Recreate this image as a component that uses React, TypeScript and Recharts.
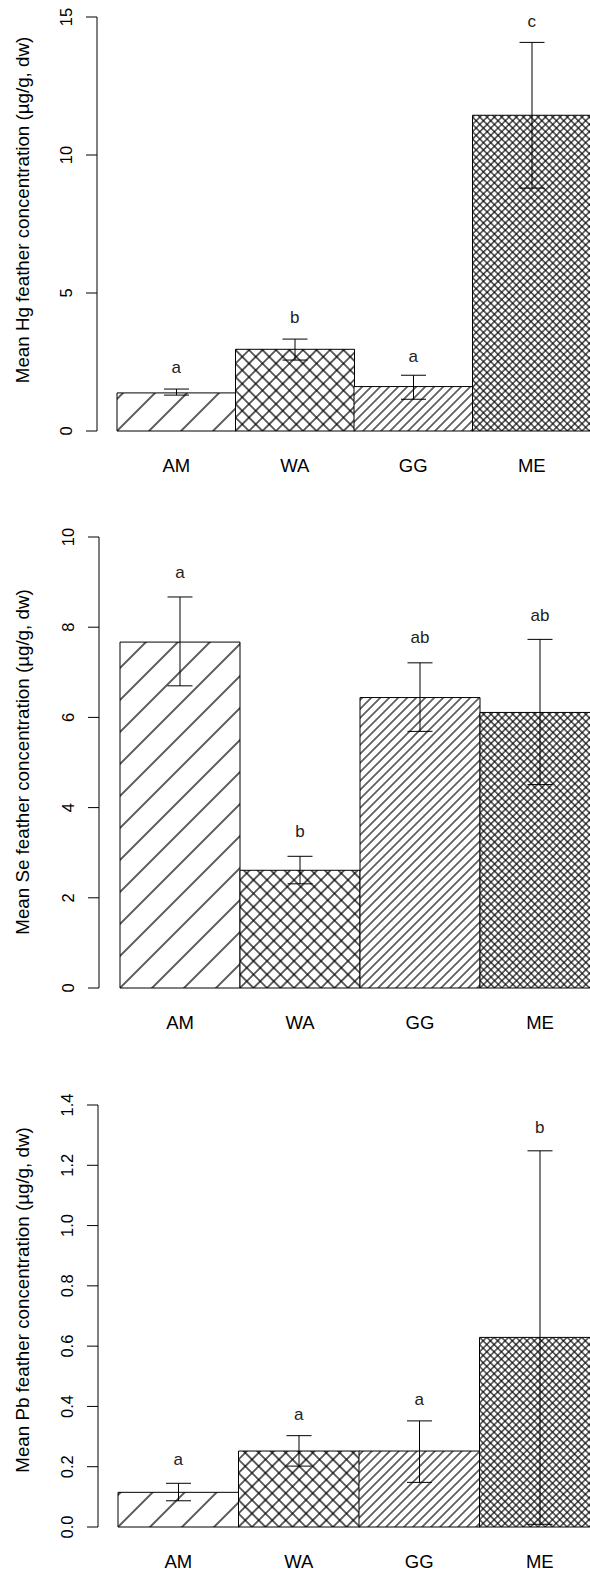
import React from 'react';
import { ComposedChart, Bar, Cell, ErrorBar, Scatter, XAxis, YAxis, Label } from 'recharts';

// sampling sites, same order in all three panels
const sites = ['AM', 'WA', 'GG', 'ME'];
const hatchBySite = ['sparse', 'cross', 'dense', 'fine'];

// Hg (µg/g, dw)
const hgMean = [1.38, 2.96, 1.61, 11.44];
const hgLow = [1.3, 2.57, 1.15, 8.8];
const hgHigh = [1.52, 3.33, 2.02, 14.08];
const hgLetters = ['a', 'b', 'a', 'c'];
const hgLetterAt = [2.09, 3.92, 2.51, 14.63];
const hgTicks = [0, 5, 10, 15];

// Se (µg/g, dw)
const seMean = [7.67, 2.61, 6.44, 6.11];
const seLow = [6.7, 2.31, 5.69, 4.51];
const seHigh = [8.67, 2.92, 7.21, 7.73];
const seLetters = ['a', 'b', 'ab', 'ab'];
const seLetterAt = [9.08, 3.35, 7.64, 8.14];
const seTicks = [0, 2, 4, 6, 8, 10];

// Pb (µg/g, dw)
const pbMean = [0.115, 0.252, 0.252, 0.629];
const pbLow = [0.087, 0.202, 0.148, 0.009];
const pbHigh = [0.145, 0.303, 0.352, 1.248];
const pbLetters = ['a', 'a', 'a', 'b'];
const pbLetterAt = [0.206, 0.355, 0.405, 1.307];
const pbTicks = [0, 0.2, 0.4, 0.6, 0.8, 1.0, 1.2, 1.4];

const FONT = '"Liberation Sans", Arial, Helvetica, sans-serif';
const CHART_W = 600;

// gap = horizontal distance between hatch lines
const HATCH: Record<string, { gap: number; cross: boolean; w: number }> = {
  sparse: { gap: 32, cross: false, w: 1.3 },
  dense: { gap: 9, cross: false, w: 1.15 },
  cross: { gap: 13.5, cross: true, w: 1.25 },
  fine: { gap: 7.3, cross: true, w: 1.1 },
};

const Hatch = ({ id, kind, x0, y0 }: { id: string; kind: string; x0: number; y0: number }) => {
  const h = HATCH[kind];
  const s = h.gap / Math.SQRT2;
  const ln = { stroke: '#000', strokeWidth: h.w };
  return (
    <pattern
      id={id}
      patternUnits="userSpaceOnUse"
      width={s}
      height={s}
      patternTransform={`translate(${x0} ${y0}) rotate(45)`}
    >
      <rect width={s} height={s} fill="#fff" />
      <line x1={0} y1={0} x2={0} y2={s} {...ln} />
      <line x1={s} y1={0} x2={s} y2={s} {...ln} />
      {h.cross && <line x1={0} y1={0} x2={s} y2={0} {...ln} />}
      {h.cross && <line x1={0} y1={s} x2={s} y2={s} {...ln} />}
    </pattern>
  );
};

interface PanelProps {
  id: string;
  title: string;
  mean: number[];
  low: number[];
  high: number[];
  letters: string[];
  letterAt: number[];
  ticks: number[];
  fmt: (v: number) => string;
  top: number;
  height: number;
  marginTop: number;
  xAxisHeight: number;
  axisX: number;
  pad: number;
  marginRight: number;
  titleY: number;
}

const Panel = (p: PanelProps) => {
  const data = sites.map((name, i) => ({
    name,
    mean: p.mean[i],
    err: [p.mean[i] - p.low[i], p.high[i] - p.mean[i]],
    letter: p.letters[i],
    letterAt: p.letterAt[i],
  }));
  const plotBottom = p.height - p.xAxisHeight;
  const band = (CHART_W - p.marginRight - p.axisX - p.pad) / sites.length;

  return (
    <div style={{ position: 'absolute', left: 0, top: p.top }}>
      <ComposedChart
        width={CHART_W}
        height={p.height}
        data={data}
        barCategoryGap={0}
        barGap={0}
        margin={{ top: p.marginTop, right: p.marginRight, bottom: 0, left: 0 }}
      >
        <defs>
          {sites.map((s, i) => (
            <Hatch
              key={s}
              id={`${p.id}-${s}`}
              kind={hatchBySite[i]}
              x0={p.axisX + p.pad + i * band}
              y0={plotBottom}
            />
          ))}
        </defs>
        <XAxis
          dataKey="name"
          axisLine={false}
          tickLine={false}
          tickSize={0}
          tickMargin={0}
          interval={0}
          height={p.xAxisHeight}
          padding={{ left: p.pad, right: 0 }}
          tick={(t: any) => (
            <text x={t.x} y={t.y + 41} textAnchor="middle" fontSize={18.5} fontFamily={FONT} fill="#000">
              {t.payload.value}
            </text>
          )}
        />
        <YAxis
          width={p.axisX}
          domain={[p.ticks[0], p.ticks[p.ticks.length - 1]]}
          ticks={p.ticks}
          interval={0}
          tickSize={11}
          tickMargin={14}
          axisLine={{ stroke: '#000' }}
          tickLine={{ stroke: '#000' }}
          tick={(t: any) => (
            <text
              x={t.x}
              y={t.y}
              transform={`rotate(-90, ${t.x}, ${t.y})`}
              textAnchor="middle"
              fontSize={16.5}
              fontFamily={FONT}
              fill="#000"
            >
              {p.fmt(t.payload.value)}
            </text>
          )}
        >
          <Label
            content={() => (
              <text
                x={28.5}
                y={p.titleY}
                transform={`rotate(-90, 28.5, ${p.titleY})`}
                textAnchor="middle"
                fontSize={18.75}
                fontFamily={FONT}
                fill="#000"
              >
                {p.title}
              </text>
            )}
          />
        </YAxis>
        <Bar dataKey="mean" stroke="#000" strokeWidth={1} isAnimationActive={false}>
          {sites.map((s) => (
            <Cell key={s} fill={`url(#${p.id}-${s})`} />
          ))}
          <ErrorBar dataKey="err" width={12.5} stroke="#000" strokeWidth={1} isAnimationActive={false} />
        </Bar>
        <Scatter
          dataKey="letterAt"
          isAnimationActive={false}
          shape={(d: any) => (
            <text x={d.cx} y={d.cy} textAnchor="middle" fontSize={17} fontFamily={FONT} fill="#222">
              {d.payload.letter}
            </text>
          )}
        />
      </ComposedChart>
    </div>
  );
};

export default function App() {
  return (
    <div
      style={{
        position: 'absolute',
        left: 0,
        top: 0,
        width: 590,
        height: 1573,
        overflow: 'hidden',
        background: '#fff',
        fontFamily: FONT,
      }}
    >
      <Panel
        id="hg"
        title="Mean Hg feather concentration (µg/g, dw)"
        mean={hgMean}
        low={hgLow}
        high={hgHigh}
        letters={hgLetters}
        letterAt={hgLetterAt}
        ticks={hgTicks}
        fmt={(v) => String(v)}
        top={0}
        height={500}
        marginTop={17}
        xAxisHeight={69}
        axisX={97}
        pad={20}
        marginRight={9}
        titleY={210}
      />
      <Panel
        id="se"
        title="Mean Se feather concentration (µg/g, dw)"
        mean={seMean}
        low={seLow}
        high={seHigh}
        letters={seLetters}
        letterAt={seLetterAt}
        ticks={seTicks}
        fmt={(v) => String(v)}
        top={500}
        height={540}
        marginTop={37}
        xAxisHeight={52}
        axisX={99}
        pad={21}
        marginRight={0}
        titleY={262}
      />
      <Panel
        id="pb"
        title="Mean Pb feather concentration (µg/g, dw)"
        mean={pbMean}
        low={pbLow}
        high={pbHigh}
        letters={pbLetters}
        letterAt={pbLetterAt}
        ticks={pbTicks}
        fmt={(v) => v.toFixed(1)}
        top={1040}
        height={533}
        marginTop={65}
        xAxisHeight={46}
        axisX={98}
        pad={20}
        marginRight={0}
        titleY={260}
      />
    </div>
  );
}
